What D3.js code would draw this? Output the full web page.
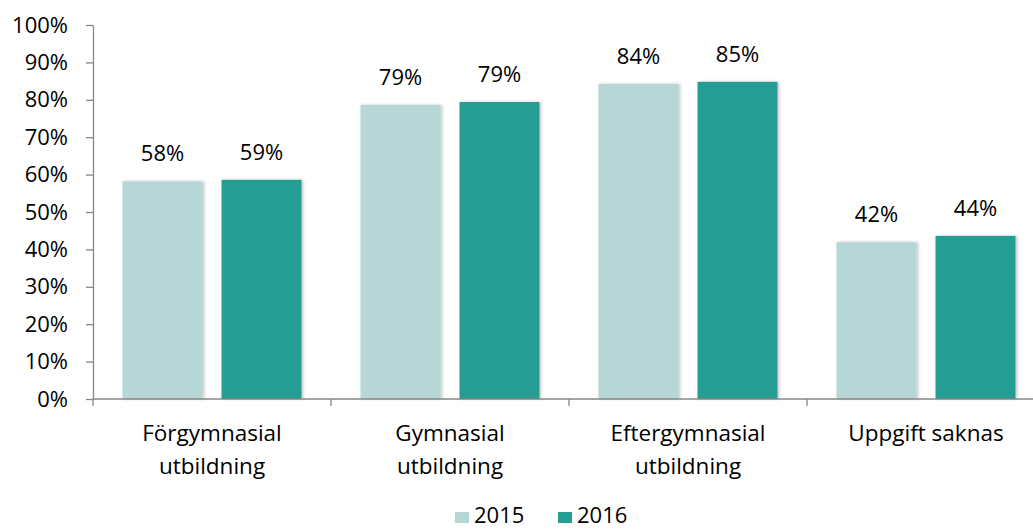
<!DOCTYPE html>
<html>
<head>
<meta charset="utf-8">
<script src="https://cdn.jsdelivr.net/npm/d3@7"></script>
<style>
  body { margin: 0; background: #fff; }
  text { font-family: "Open Sans", sans-serif; fill: #000; }
</style>
</head>
<body>
<div id="chart"></div>
<script>
// data
var categories = [["Förgymnasial", "utbildning"], ["Gymnasial", "utbildning"], ["Eftergymnasial", "utbildning"], ["Uppgift saknas"]];
var years = ["2015", "2016"];
var values2015 = [0.582, 0.786, 0.842, 0.419];
var values2016 = [0.586, 0.794, 0.848, 0.436];
var yTicks = [0, 0.1, 0.2, 0.3, 0.4, 0.5, 0.6, 0.7, 0.8, 0.9, 1];
var colors = ["#b6d7d5", "#289d93"];

var width = 1033, height = 531;
var margin = {top: 25, left: 93, bottom: 132};

var svg = d3.select("#chart")
  .append("svg")
    .attr("width", width)
    .attr("height", height);

var defs = svg.append("defs");
var shadow = defs.append("filter").attr("id", "shadow")
  .attr("x", "-10%").attr("y", "-10%").attr("width", "130%").attr("height", "120%");
shadow.append("feDropShadow")
  .attr("dx", 1.5).attr("dy", 0).attr("stdDeviation", 1.5)
  .attr("flood-color", "#000").attr("flood-opacity", 0.25);

var catIdx = categories.map(function(d, i) { return i; });

var x0 = d3.scaleBand()
  .domain(catIdx)
  .range([margin.left, margin.left + 4 * 238]);

var x1 = d3.scaleBand()
  .domain(years)
  .range([0, x0.bandwidth()])
  .paddingInner(0.192)
  .paddingOuter(0.298);

var y = d3.scaleLinear()
  .domain([0, 1])
  .range([height - margin.bottom, margin.top]);

// bars
var rows = catIdx.map(function(i) {
  return [values2015[i], values2016[i]];
});

var groups = svg.selectAll("g.cat")
  .data(rows)
  .enter()
  .append("g")
    .attr("class", "cat")
    .attr("transform", function(d, i) { return "translate(" + x0(i) + ",0)"; });

groups.selectAll("rect")
  .data(function(d) { return d.map(function(v, j) { return {year: years[j], v: v, j: j}; }); })
  .enter()
  .append("rect")
    .attr("x", function(d) { return x1(d.year); })
    .attr("y", function(d) { return y(d.v); })
    .attr("width", x1.bandwidth())
    .attr("height", function(d) { return y(0) - y(d.v); })
    .attr("fill", function(d) { return colors[d.j]; })
    .attr("filter", "url(#shadow)");

groups.selectAll("text.val")
  .data(function(d) { return d.map(function(v, j) { return {year: years[j], v: v}; }); })
  .enter()
  .append("text")
    .attr("class", "val")
    .attr("x", function(d) { return x1(d.year) + x1.bandwidth() / 2; })
    .attr("y", function(d) { return y(d.v) - 20; })
    .attr("text-anchor", "middle")
    .style("font-size", "22px")
    .text(function(d) { return Math.round(d.v * 100) + "%"; });

// y axis
var yAxis = svg.append("g")
  .attr("transform", "translate(" + margin.left + ",0)")
  .call(d3.axisLeft(y).tickValues(yTicks).tickSize(7).tickSizeOuter(0).tickPadding(18)
    .tickFormat(function(d) { return Math.round(d * 100) + "%"; }));
yAxis.selectAll("text").style("font-size", "22px").style("font-family", "Open Sans, sans-serif").attr("fill", "#000");
yAxis.selectAll("line, path").attr("stroke", "#868686").attr("stroke-width", 1.3);

// x axis
var xAxis = svg.append("g")
  .attr("transform", "translate(0," + y(0) + ")");
xAxis.append("line")
  .attr("x1", margin.left).attr("x2", width)
  .attr("stroke", "#868686").attr("stroke-width", 1.5);
xAxis.selectAll("line.tick")
  .data(catIdx.concat([4]))
  .enter()
  .append("line")
    .attr("class", "tick")
    .attr("x1", function(i) { return margin.left + i * x0.step(); })
    .attr("x2", function(i) { return margin.left + i * x0.step(); })
    .attr("y1", 0).attr("y2", 7)
    .attr("stroke", "#868686").attr("stroke-width", 1.3);

var labels = xAxis.selectAll("text.cat")
  .data(categories)
  .enter()
  .append("text")
    .attr("class", "cat")
    .attr("x", function(d, i) { return x0(i) + x0.bandwidth() / 2; })
    .attr("y", 42)
    .attr("text-anchor", "middle")
    .style("font-size", "22.5px");

labels.selectAll("tspan")
  .data(function(d) { return d; })
  .enter()
  .append("tspan")
    .attr("x", function() { return d3.select(this.parentNode).attr("x"); })
    .attr("dy", function(d, i) { return i === 0 ? 0 : 33; })
    .text(function(d) { return d; });

// legend
var legend = svg.append("g")
  .attr("transform", "translate(455,523)");
var items = legend.selectAll("g")
  .data(years)
  .enter()
  .append("g")
    .attr("transform", function(d, i) { return "translate(" + (i * 103) + ",0)"; });
items.append("rect")
  .attr("x", 0).attr("y", -11)
  .attr("width", 14).attr("height", 11)
  .attr("fill", function(d, i) { return colors[i]; });
items.append("text")
  .attr("x", 19).attr("y", 0)
  .style("font-size", "22px")
  .text(function(d) { return d; });
</script>
</body>
</html>
